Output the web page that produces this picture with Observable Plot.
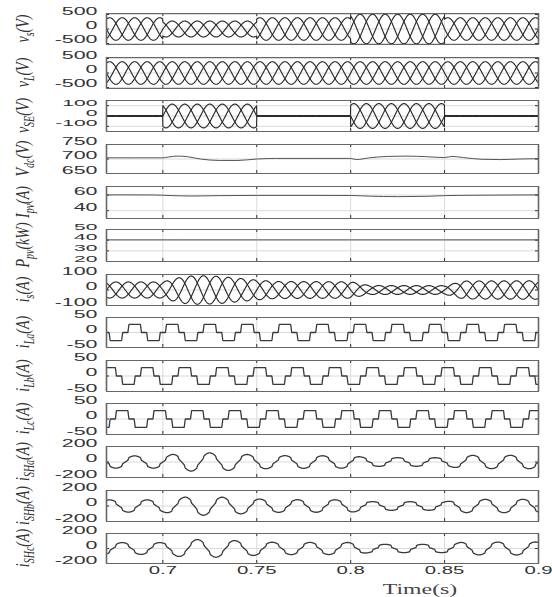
<!DOCTYPE html>
<html><head><meta charset="utf-8">
<script src="https://cdn.jsdelivr.net/npm/d3@7"></script>
<script src="https://cdn.jsdelivr.net/npm/@observablehq/plot@0.6"></script>
<style>
html,body{margin:0;padding:0;background:#fff;}
#fig{position:relative;width:552px;height:597px;overflow:hidden;background:#fff;}
#fig > div.panel{position:absolute;left:0;}
#overlay{position:absolute;left:0;top:0;pointer-events:none;}
</style></head><body><div id="fig"></div>
<script>
// ---------------- data ----------------
const timeDomain = [0.67, 0.9];
const timeTicks = [0.7, 0.75, 0.8, 0.85, 0.9];
const fundamentalHz = 50;
const phaseAPeakTime = 0.685;          // time of a phase-a peak (s)
const phaseShiftsDeg = [0, -120, 120]; // phases a, b, c

// piecewise constant voltage amplitudes (V) between these instants
const segmentEdges = [0.67, 0.70, 0.75, 0.80, 0.85, 0.90];
const vsAmplitude  = [390, 275, 390, 510, 390];
const vLAmplitude  = [390, 390, 390, 390, 390];
const vSEAmplitude = [4, 115, 4, -120, 4];

// source current envelope (A)
const isEnvelopeTime = [0.67, 0.70, 0.705, 0.712, 0.72, 0.73, 0.74, 0.75, 0.76, 0.80, 0.805, 0.81, 0.85, 0.855, 0.86, 0.90];
const isEnvelopeAmp  = [52,   52,   70,    88,    93,   88,   76,   64,   55,   53,   40,    29,   28,   42,    58,   60];

// load current: six-step shape over one cycle (deg from phase peak, per unit level)
const iLAmplitude = 27;
const iLShapeDeg   = [-180, -125, -115, -65, -55, 55, 65, 115, 125, 180];
const iLShapeLevel = [-1,   -1,    0,    0,   1,  1,  0,  0,   -1,  -1];

// DC link voltage (V)
const vdcTime  = [0.67, 0.70, 0.703, 0.708, 0.713, 0.72, 0.73, 0.74, 0.75, 0.76, 0.78, 0.80, 0.803, 0.81, 0.82, 0.83, 0.84, 0.85, 0.854, 0.86, 0.87, 0.88, 0.89, 0.90];
const vdcValue = [704,  704,  707,   710,   708,   700,  695,  695,  700,  702,  702,  702,  698,   704,  709,  710,  708,  705,  709,   705,  699,  698,  700,  701];

// PV current (A)
const ipvTime  = [0.67, 0.695, 0.705, 0.715, 0.73, 0.75, 0.78, 0.80, 0.81, 0.825, 0.84, 0.85, 0.865, 0.88, 0.90];
const ipvValue = [60.3, 60.2,  59.3,  58.8,  59.3, 59.6, 59.6, 59.5, 58.6, 58.0,  58.4, 59.3, 59.8,  60.0, 60.3];

// PV power (kW)
const ppvTime  = [0.67, 0.75, 0.80, 0.90];
const ppvValue = [40.3, 40.3, 40.3, 40.3];

// ---------------- waveform construction ----------------
const nSamples = 2301;
const sampleT = d3.range(nSamples).map(i => timeDomain[0] + i * (timeDomain[1] - timeDomain[0]) / (nSamples - 1));
const thetaDeg = (t, shift) => 360 * fundamentalHz * (t - phaseAPeakTime) + shift;
function segAmp(arr, t) {
  let k = d3.bisectRight(segmentEdges, t) - 1;
  k = Math.max(0, Math.min(arr.length - 1, k));
  return arr[k];
}
const isEnv = d3.scaleLinear().domain(isEnvelopeTime).range(isEnvelopeAmp).clamp(true);
function wrapDeg(d) { return ((d + 180) % 360 + 360) % 360 - 180; }
function iLShape(deg) {
  const d = wrapDeg(deg);
  let i = d3.bisectRight(iLShapeDeg, d);
  i = Math.max(1, Math.min(iLShapeDeg.length - 1, i));
  const d0 = iLShapeDeg[i - 1], d1 = iLShapeDeg[i];
  const f = (d - d0) / (d1 - d0);
  return iLShapeLevel[i - 1] + f * (iLShapeLevel[i] - iLShapeLevel[i - 1]);
}
const cosd = d => Math.cos(d * Math.PI / 180);
const vs  = (t, p) => segAmp(vsAmplitude, t) * cosd(thetaDeg(t, phaseShiftsDeg[p]));
const vL  = (t, p) => segAmp(vLAmplitude, t) * cosd(thetaDeg(t, phaseShiftsDeg[p]));
const vSE = (t, p) => segAmp(vSEAmplitude, t) * cosd(thetaDeg(t, phaseShiftsDeg[p]));
const is_ = (t, p) => -isEnv(t) * cosd(thetaDeg(t, phaseShiftsDeg[p]));
const iL  = (t, p) => iLAmplitude * iLShape(thetaDeg(t, phaseShiftsDeg[p]));
const iSH = (t, p) => iL(t, p) - is_(t, p);

function sampled(fn, phases) {
  const out = [];
  for (const p of phases) for (const t of sampleT) out.push({t, v: fn(t, p), phase: p});
  return out;
}
function table(ts, vs_) { return ts.map((t, i) => ({t, v: vs_[i], phase: 0})); }

const wave = {stroke: "#2b2b2b", sw: 1.15};
const step = {stroke: "#3a3a3a", sw: 1.3};
const dc = {stroke: "#555", sw: 1.0, curve: "monotone-x"};

const panels = [
  {label: ["v", "s", "(V)"],   frame: [13, 44],   domain: [-535, 535], ticks: [-500, 0, 500], data: sampled(vs, [0,1,2]), ...wave},
  {label: ["v", "L", "(V)"],   frame: [57, 88],   domain: [-535, 535], ticks: [-500, 0, 500], data: sampled(vL, [0,1,2]), ...wave},
  {label: ["v", "SE", "(V)"],  frame: [100, 131], domain: [-150, 150], ticks: [-100, 0, 100], data: sampled(vSE, [0,1,2]), ...wave, fs: 9.4, sx: 2.25},
  {label: ["V", "dc", "(V)"],  frame: [144, 173], domain: [650, 750],  ticks: [650, 700, 750], data: table(vdcTime, vdcValue), ...dc},
  {label: ["I", "pv", "(A)"],  frame: [186, 218], domain: [30, 71],    ticks: [40, 60], data: table(ipvTime, ipvValue), ...dc},
  {label: ["P", "pv", "(kW)"], frame: [229, 261], domain: [20, 50],    ticks: [20, 30, 40, 50], data: table(ppvTime, ppvValue), ...dc, fs: 9.8, sx: 2.15},
  {label: ["i", "s", "(A)"],   frame: [274, 305], domain: [-100, 100], ticks: [-100, 0, 100], data: sampled(is_, [0,1,2]), ...wave},
  {label: ["i", "La", "(A)"],  frame: [317, 347], domain: [-50, 50],   ticks: [-50, 0, 50], data: sampled(iL, [0]), ...step},
  {label: ["i", "Lb", "(A)"],  frame: [360, 391], domain: [-50, 50],   ticks: [-50, 0, 50], data: sampled(iL, [1]), ...step},
  {label: ["i", "Lc", "(A)"],  frame: [403, 434], domain: [-50, 50],   ticks: [-50, 0, 50], data: sampled(iL, [2]), ...step},
  {label: ["i", "SHa", "(A)"], frame: [446, 477], domain: [-200, 200], ticks: [-200, 0, 200], data: sampled(iSH, [0]), ...step},
  {label: ["i", "SHb", "(A)"], frame: [490, 521], domain: [-200, 200], ticks: [-200, 0, 200], data: sampled(iSH, [1]), ...step},
  {label: ["i", "SHc", "(A)"], frame: [533, 563], domain: [-200, 200], ticks: [-200, 0, 200], data: sampled(iSH, [2]), ...step}
];

// ---------------- rendering ----------------
const W = 552, ML = 106, MR = 14;
const innerW = W - ML - MR;
const fig = document.getElementById("fig");

function stretch(svg, selector, sx) {
  svg.querySelectorAll(selector).forEach(t => {
    let tr = t.getAttribute("transform") || "";
    const x = t.getAttribute("x"), y = t.getAttribute("y");
    if (x !== null || y !== null) {
      tr += ` translate(${+x || 0},${+y || 0})`;
      t.removeAttribute("x"); t.removeAttribute("y");
    }
    t.setAttribute("transform", tr + ` scale(${sx},1)`);
  });
}

panels.forEach((cfg, idx) => {
  const last = idx === panels.length - 1;
  const mt = 4, mb = last ? 34 : 4;
  const innerH = cfg.frame[1] - cfg.frame[0];
  const marks = [
    Plot.gridX(timeTicks, {stroke: "#dadada", strokeOpacity: 1}),
    Plot.gridY(cfg.ticks, {stroke: "#dadada", strokeOpacity: 1}),
    Plot.line(cfg.data, {x: "t", y: "v", z: "phase", stroke: cfg.stroke, strokeWidth: cfg.sw, curve: cfg.curve || "linear", clip: true}),
    Plot.tickX(timeTicks, {x: d => d, insetBottom: innerH - 3, stroke: "#333"}),
    Plot.tickX(timeTicks, {x: d => d, insetTop: innerH - 3, stroke: "#333"}),
    Plot.tickY(cfg.ticks, {y: d => d, insetRight: innerW - 3, stroke: "#333"}),
    Plot.tickY(cfg.ticks, {y: d => d, insetLeft: innerW - 3, stroke: "#333"}),
    Plot.frame({stroke: "#666", strokeWidth: 1}),
    Plot.ruleX(timeDomain, {stroke: "#666", strokeWidth: 1.6}),
    Plot.axisY(cfg.ticks, {tickSize: 0, tickPadding: 9, fontSize: cfg.fs || 10.7, fill: "#333", tickFormat: d => String(d), label: null})
  ];
  if (last) marks.push(Plot.axisX(timeTicks, {tickSize: 0, tickPadding: 10, fontSize: 10.7, fill: "#333", tickFormat: d => String(d), label: null}));
  const svg = Plot.plot({
    width: W, height: innerH + mt + mb,
    marginLeft: ML, marginRight: MR, marginTop: mt, marginBottom: mb,
    x: {domain: timeDomain, axis: null},
    y: {domain: cfg.domain, axis: null},
    style: {background: "transparent", overflow: "visible", fontFamily: "'Liberation Sans', Arial, sans-serif"},
    marks
  });
  stretch(svg, 'g[aria-label="y-axis tick label"] text', cfg.sx || 2.0);
  stretch(svg, 'g[aria-label="x-axis tick label"] text', 1.9);
  const div = document.createElement("div");
  div.className = "panel";
  div.style.top = (cfg.frame[0] - mt) + "px";
  div.appendChild(svg);
  fig.appendChild(div);
});

// y labels and x label as real text
const ov = d3.select(fig).append("svg").attr("id", "overlay").attr("width", W).attr("height", 597);
panels.forEach(p => {
  const cy = (p.frame[0] + p.frame[1]) / 2;
  const t = ov.append("text")
    .attr("transform", `translate(29,${cy}) rotate(-90) scale(1,1.4)`)
    .attr("text-anchor", "middle")
    .attr("font-family", "'Liberation Serif', 'Times New Roman', serif")
    .attr("font-style", "italic").attr("font-size", 14).attr("fill", "#333");
  t.append("tspan").text(p.label[0]);
  t.append("tspan").attr("dy", 3.5).attr("font-size", 10).text(p.label[1]);
  t.append("tspan").attr("dy", -3.5).text(p.label[2]);
});
ov.append("text")
  .attr("transform", "translate(420,594) scale(1.7,1)")
  .attr("text-anchor", "middle")
  .attr("font-family", "'Liberation Serif', 'Times New Roman', serif")
  .attr("font-size", 14).attr("fill", "#444")
  .text("Time(s)");
</script></body></html>
